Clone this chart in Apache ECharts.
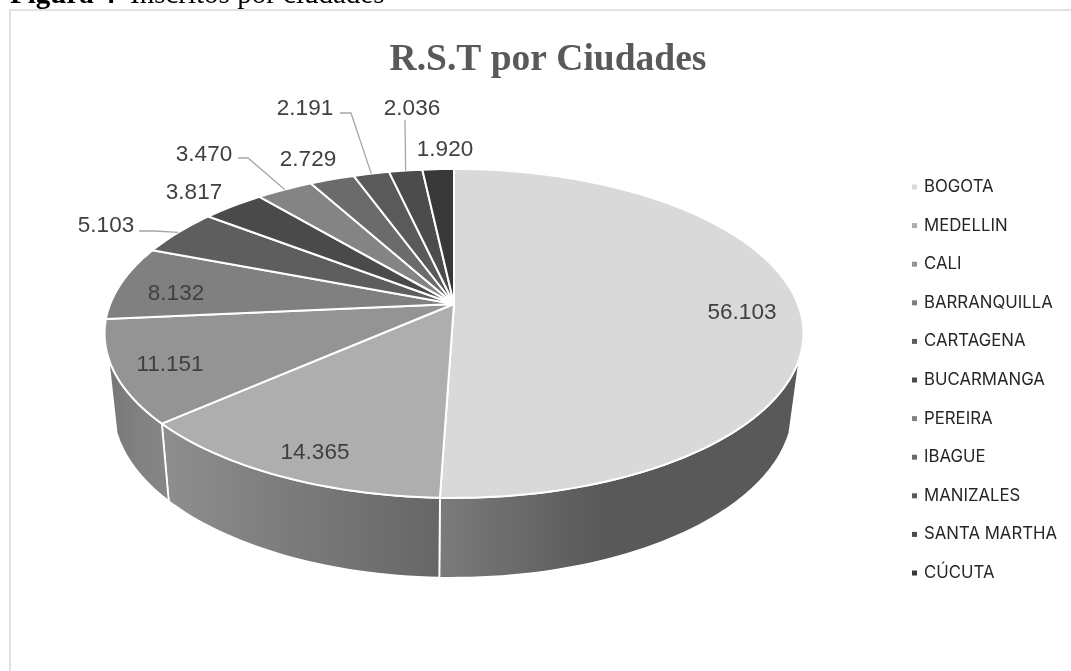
<!DOCTYPE html>
<html><head><meta charset="utf-8">
<style>html,body{margin:0;padding:0;background:#fff}#c{width:1071px;height:671px}</style>
<script src="https://cdn.jsdelivr.net/npm/echarts@6/dist/echarts.min.js"></script></head>
<body><div id="c"></div>
<script>
const cities = ['BOGOTA','MEDELLIN','CALI','BARRANQUILLA','CARTAGENA','BUCARMANGA','PEREIRA','IBAGUE','MANIZALES','SANTA MARTHA','CÚCUTA'];
const values = [56103,14365,11151,8132,5103,3817,3470,2729,2191,2036,1920];
const topColors = ['#d9d9d9','#aeaeae','#949494','#808080','#5e5e5e','#4a4a4a','#848484','#6b6b6b','#5a5a5a','#4c4c4c','#383838'];
const wallStops = [['#7b7b7b','#595959','#595959'],['#8f8f8f','#7c7c7c','#666666'],['#777777','#808080','#878787']];
const labelCentres = [[742,313],[315,453],[170,365],[176,294],[106,226],[194,193],[204,155],[308,160],[305,109],[412,109],[445,150]];
const leaderStart = {4:[[139,231],[155,231]],6:[[238,158],[248,158]],8:[[340,113],[351,113]],9:[[405,120],[405,120]]};

const total = values.reduce((a,b)=>a+b,0);
const P = {ax:454,ay:304,a:343.8,b:159.2,w:0.179,sx:0.973,sy:1.033,bx:453,by:377.5,wallFrom:108.3,wallTo:251.7};
function topPt(t){const r=t*Math.PI/180,u=Math.sin(r),v=-Math.cos(r),d=1-P.w*v;return [P.ax+P.a*u/d,P.ay+P.b*v/d];}
function botPt(t){const p=topPt(t);return [P.bx+(p[0]-P.ax)*P.sx,P.by+(p[1]-P.ay)*P.sy];}
function arc(f,t0,t1){const n=Math.max(2,Math.ceil(Math.abs(t1-t0)/1.5)),o=[];for(let i=0;i<=n;i++)o.push(f(t0+(t1-t0)*i/n));return o;}
function fmt(v){return String(v).replace(/\B(?=(\d{3})+$)/g,'.');}

let run=0;
const spans=values.map(v=>{const s=run;run+=v;return [s/total*360,run/total*360];});
const labelFont='"Liberation Sans"', legendFont='Inter';
function renderSlice(i){return function(){
  const [t0,t1]=spans[i],kids=[];
  const w0=Math.max(t0,P.wallFrom),w1=Math.min(t1,P.wallTo);
  if(w1>w0&&wallStops[i]){
    const s=wallStops[i];
    kids.push({type:'polygon',z2:1,shape:{points:arc(topPt,w0,w1).concat(arc(botPt,w1,w0))},
      style:{fill:{type:'linear',x:0,y:0,x2:1,y2:0,colorStops:[{offset:0,color:s[0]},{offset:.45,color:s[1]},{offset:1,color:s[2]}]},stroke:'#fff',lineWidth:1.8}});
  }
  kids.push({type:'polygon',z2:2,shape:{points:[[P.ax,P.ay]].concat(arc(topPt,t0,t1))},style:{fill:topColors[i],stroke:'#fff',lineWidth:2,lineJoin:'round'}});
  if(leaderStart[i]){
    const ls=leaderStart[i];
    kids.push({type:'polyline',z2:3,shape:{points:[ls[0],ls[1],topPt((t0+t1)/2)]},style:{fill:null,stroke:'#a6a6a6',lineWidth:1.3}});
  }
  kids.push({type:'text',z2:4,style:{text:fmt(values[i]),x:labelCentres[i][0],y:labelCentres[i][1],align:'center',verticalAlign:'middle',fill:'#404040',font:'22.5px '+labelFont}});
  return {type:'group',children:kids};
};}

const chart=echarts.init(document.getElementById('c'),null,{renderer:'canvas'});
chart.setOption({
  animation:false,
  title:{text:'R.S.T por Ciudades',left:543,top:36,textAlign:'center',textStyle:{fontFamily:'Liberation Serif',fontWeight:'bold',fontSize:37.5,color:'#595959'}},
  legend:{orient:'vertical',left:907,top:173,itemWidth:5,itemHeight:5,itemGap:20.6,icon:'rect',data:cities,selectedMode:false,
    textStyle:{fontFamily:legendFont,fontSize:16.8,color:'#262626',padding:[0,0,0,2],lineHeight:18}},
  graphic:[
    {type:'rect',shape:{x:10,y:10,width:1100,height:700},style:{fill:null,stroke:'#d9d9d9',lineWidth:1.6},silent:true},
    {type:'text',x:10,y:-19,style:{rich:{b:{font:'bold 29px "Liberation Serif"',fill:'#000'},n:{font:'29px "Liberation Serif"',fill:'#000'}},text:'{b|Figura 4}{n|  Inscritos por ciudades}'},silent:true}
  ],
  series:cities.map((c,i)=>({type:'custom',name:c,coordinateSystem:'none',silent:true,data:[[values[i]]],itemStyle:{color:topColors[i]},renderItem:renderSlice(i)}))
});
</script></body></html>
